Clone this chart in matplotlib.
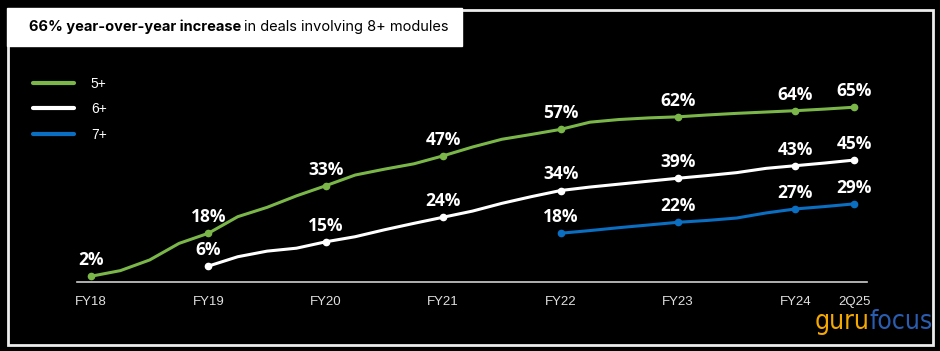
import matplotlib.pyplot as plt
from matplotlib.patches import Rectangle

# quarterly points, FY18 .. 2Q25 (index 0 = FY18, 4 quarters per year)
green_5 = [1.9, 4.0, 8.0, 14.2, 18.0, 24.2, 27.7, 32.0, 35.8, 39.8, 42.0, 44.0, 47.0,
           50.3, 53.2, 55.0, 56.9, 59.6, 60.6, 61.2, 61.6, 62.3, 62.9, 63.4, 63.9, 64.5, 65.2]
white_6 = [5.7, 9.2, 11.3, 12.4, 14.8, 16.7, 19.3, 21.7, 24.0,
           26.3, 29.2, 31.7, 34.0, 35.3, 36.4, 37.5, 38.6, 39.6, 40.7, 42.3, 43.3, 44.3, 45.4]
blue_7 = [18.0, 19.0, 20.1, 21.1, 22.1, 22.8, 23.7, 25.6, 27.1, 28.0, 29.0]

start_5, start_6, start_7 = 0, 4, 16
tick_idx = [0, 4, 8, 12, 16, 20, 24, 26]
tick_labels = ['FY18', 'FY19', 'FY20', 'FY21', 'FY22', 'FY23', 'FY24', '2Q25']

labels_5 = ['2%', '18%', '33%', '47%', '57%', '62%', '64%', '65%']
labels_6 = ['6%', '15%', '24%', '34%', '39%', '43%', '45%']
labels_7 = ['18%', '22%', '27%', '29%']

GREEN = '#7ab648'
BLUE = '#0a6fc2'
W, H = 940, 351

fig = plt.figure(figsize=(9.4, 3.51), dpi=100, facecolor='black')

# panel border and title box (pixel coords -> figure fraction)
def px(x, y):
    return x / W, 1 - y / H

x0, y0 = px(8, 345)
x1, y1 = px(933, 10)
fig.patches.append(Rectangle((x0, y0), x1 - x0, y1 - y0, transform=fig.transFigure,
                             fill=False, edgecolor='#ececec', linewidth=2, zorder=0))
tx0, ty0 = px(7, 46)
tx1, ty1 = px(462, 8)
fig.patches.append(Rectangle((tx0, ty0), tx1 - tx0, ty1 - ty0, transform=fig.transFigure,
                             facecolor='white', edgecolor='white', zorder=1))

t1 = fig.text(29 / W, 1 - 27 / H, '66% year-over-year increase', color='black',
              fontsize=10.5, fontweight='bold', family='Inter', va='center', ha='left')
fig.canvas.draw()
bb = t1.get_window_extent()
fig.text((bb.x1 + 3) / W, 1 - 27 / H, 'in deals involving 8+ modules', color='black',
         fontsize=10.5, family='Inter', va='center', ha='left')

# plot area: baseline at y=282px, FY18 at x=91, quarter = 29.35px
ax = fig.add_axes([77 / W, 1 - 282 / H, (867 - 77) / W, (282 - 95) / H])
ax.set_facecolor('black')
q = 29.35
ax.set_xlim((77 - 91) / q, (867 - 91) / q)
ax.set_ylim(-0.26, (281.3 - 95) / 2.67)

series = [
    (green_5, start_5, GREEN, '5+', labels_5),
    (white_6, start_6, 'white', '6+', labels_6),
    (blue_7, start_7, BLUE, '7+', labels_7),
]
for vals, s, col, name, labs in series:
    xs = list(range(s, s + len(vals)))
    ax.plot(xs, vals, color=col, linewidth=2.2, solid_capstyle='round', label=name,
            clip_on=False, zorder=3)
    ann = [i for i in tick_idx if i >= s]
    ax.plot(ann, [vals[i - s] for i in ann], 'o', color=col, markersize=4.5,
            clip_on=False, zorder=4)
    for i, lab in zip(ann, labs):
        ax.annotate(lab, (i, vals[i - s]), xytext=(0, 8), textcoords='offset points',
                    ha='center', va='baseline', color='white', fontsize=12.5,
                    fontweight='bold', family='Open Sans', annotation_clip=False)

for sp in ['top', 'right', 'left']:
    ax.spines[sp].set_visible(False)
ax.spines['bottom'].set_color('#cfcfcf')
ax.spines['bottom'].set_linewidth(1.2)
ax.set_yticks([])
ax.set_xticks(tick_idx)
ax.set_xticklabels(tick_labels, color='#e0e0e0', fontsize=9.5, family='Liberation Sans')
ax.tick_params(axis='x', length=0, pad=10)

leg = ax.legend(loc='upper left', bbox_to_anchor=(20 / W, 1 - 64 / H),
                bbox_transform=fig.transFigure, frameon=False,
                handlelength=3.0, handletextpad=1.2, labelspacing=0.85,
                prop={'family': 'Liberation Sans', 'size': 10})
for line in leg.get_lines():
    line.set_linewidth(3)
for t in leg.get_texts():
    t.set_color('white')

# watermark
g = fig.text(815 / W, 1 - 322 / H, 'guru', color='#f5a800', fontsize=19,
             family='DejaVu Sans', fontstretch='condensed', va='center', ha='left')
fig.canvas.draw()
gb = g.get_window_extent()
fig.text(gb.x1 / W, 1 - 322 / H, 'focus', color='#2a5db0', fontsize=19,
         family='DejaVu Sans', fontstretch='condensed', va='center', ha='left')

fig.savefig('out.png', dpi=100, facecolor='black')
